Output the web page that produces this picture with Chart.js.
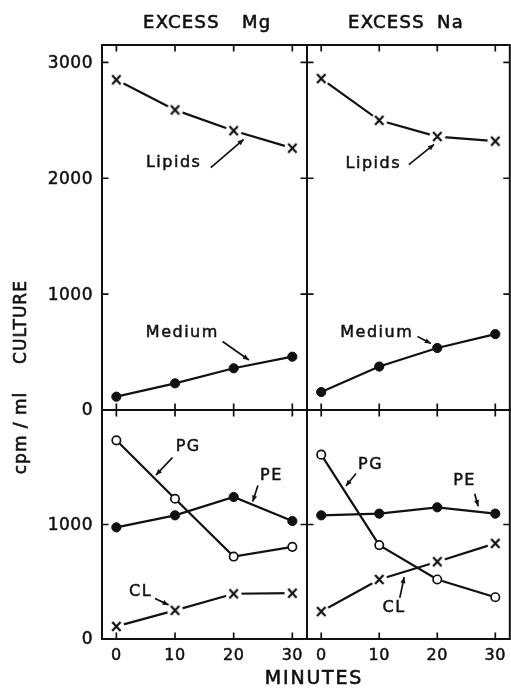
<!DOCTYPE html>
<html>
<head>
<meta charset="utf-8">
<script src="https://cdn.jsdelivr.net/npm/chart.js@4.4.1/dist/chart.umd.min.js"></script>
<style>
  html, body { margin: 0; padding: 0; background: #fff; overflow: hidden; }
  #wrap { position: relative; width: 511px; height: 688px; overflow: hidden; background: #fff; }
  #wrap canvas { position: absolute; left: 0; top: 0; }
</style>
</head>
<body>
<div id="wrap">
  <canvas id="tl" width="520" height="688" style="width:520px;height:688px"></canvas>
  <canvas id="tr" width="520" height="688" style="width:520px;height:688px"></canvas>
  <canvas id="bl" width="520" height="688" style="width:520px;height:688px"></canvas>
  <canvas id="br" width="520" height="688" style="width:520px;height:688px"></canvas>
</div>
<script>
// Sampling times (minutes)
const minutes = [0, 10, 20, 30];

// cpm / ml culture — excess Mg
const mgLipids = [2850, 2590, 2410, 2260];
const mgMedium = [115, 230, 360, 460];
const mgPG = [1735, 1225, 720, 805];
const mgPE = [975, 1080, 1240, 1030];
const mgCL = [110, 250, 395, 400];

// cpm / ml culture — excess Na
const naLipids = [2860, 2500, 2360, 2320];
const naMedium = [155, 375, 535, 655];
const naPG = [1610, 820, 520, 365];
const naPE = [1080, 1095, 1150, 1095];
const naCL = [240, 520, 675, 835];

// Axis ticks
const minuteTicks = [0, 10, 20, 30];
const upperTicks = [0, 1000, 2000, 3000];
const lowerTicks = [0, 1000];

const W = 520, H = 688;
const FONT = '"DejaVu Sans", "Liberation Sans", sans-serif';
const INK = '#111';

// "x" marker on a small white patch, so connecting lines stop just short of it
const xMark = (() => {
  const c = document.createElement('canvas');
  c.width = 17; c.height = 17;
  const g = c.getContext('2d');
  g.fillStyle = '#fff';
  g.beginPath(); g.arc(8.5, 8.5, 8, 0, Math.PI * 2); g.fill();
  g.strokeStyle = INK; g.lineWidth = 2.2; g.lineCap = 'butt';
  g.beginPath();
  g.moveTo(4.3, 4); g.lineTo(12.7, 13);
  g.moveTo(12.7, 4); g.lineTo(4.3, 13);
  g.stroke();
  return c;
})();

function pts(vals) {
  return minutes.map((m, i) => ({ x: m, y: vals[i] }));
}

function crossSeries(vals) {
  return { data: pts(vals), borderColor: INK, borderWidth: 2.2, pointStyle: xMark,
    pointRadius: 8, tension: 0, fill: false };
}
function dotSeries(vals) {
  return { data: pts(vals), borderColor: INK, borderWidth: 2.2, pointStyle: 'circle',
    pointRadius: 4.6, pointBorderWidth: 1, pointBorderColor: INK, pointBackgroundColor: INK,
    tension: 0, fill: false };
}
function ringSeries(vals) {
  return { data: pts(vals), borderColor: INK, borderWidth: 2.2, pointStyle: 'circle',
    pointRadius: 4.2, pointBorderWidth: 1.7, pointBorderColor: INK, pointBackgroundColor: '#fff',
    tension: 0, fill: false };
}

function inkText(ctx, s, x, y) {
  ctx.fillText(s, x, y);
  ctx.strokeText(s, x, y);
}

// Frame, inward ticks, tick labels and callouts for one panel
const panelDecor = {
  id: 'panelDecor',
  afterDatasetsDraw(chart, args, o) {
    const ctx = chart.ctx;
    const { left, right, top, bottom } = chart.chartArea;
    const xs = chart.scales.x, ys = chart.scales.y;
    const T = 6.5;
    ctx.save();
    ctx.strokeStyle = INK;
    ctx.fillStyle = INK;
    ctx.lineWidth = 2;
    ctx.strokeRect(left, top, right - left, bottom - top);

    ctx.lineWidth = 1.7;
    ctx.beginPath();
    o.xTicks.forEach(v => {
      const px = xs.getPixelForValue(v);
      ctx.moveTo(px, top); ctx.lineTo(px, top + T);
      ctx.moveTo(px, bottom); ctx.lineTo(px, bottom - T);
    });
    o.yTicks.forEach(v => {
      if (v <= ys.min || v >= ys.max) return;
      const py = ys.getPixelForValue(v);
      ctx.moveTo(left, py); ctx.lineTo(left + T, py);
      ctx.moveTo(right, py); ctx.lineTo(right - T, py);
    });
    ctx.stroke();

    ctx.lineWidth = 0.5;
    ctx.font = '17px ' + FONT;
    ctx.letterSpacing = '0.5px';
    if (o.yLabels) {
      ctx.textAlign = 'right';
      ctx.textBaseline = 'middle';
      o.yTicks.forEach(v => {
        inkText(ctx, String(v), left - 9, ys.getPixelForValue(v) + 1);
      });
    }
    if (o.xLabels) {
      ctx.font = '16px ' + FONT;
      ctx.textAlign = 'center';
      ctx.textBaseline = 'alphabetic';
      o.xTicks.forEach(v => {
        inkText(ctx, String(v), xs.getPixelForValue(v), bottom + 21);
      });
    }

    // callouts
    ctx.font = '16px ' + FONT;
    ctx.letterSpacing = '1.5px';
    ctx.textAlign = 'center';
    ctx.textBaseline = 'middle';
    (o.notes || []).forEach(n => {
      ctx.lineWidth = 0.5;
      inkText(ctx, n.text, xs.getPixelForValue(n.at[0]), ys.getPixelForValue(n.at[1]));
      const x1 = xs.getPixelForValue(n.arrow[0]), y1 = ys.getPixelForValue(n.arrow[1]);
      const x2 = xs.getPixelForValue(n.arrow[2]), y2 = ys.getPixelForValue(n.arrow[3]);
      ctx.lineWidth = 1.7;
      ctx.beginPath(); ctx.moveTo(x1, y1); ctx.lineTo(x2, y2); ctx.stroke();
      const ang = Math.atan2(y2 - y1, x2 - x1), L = 6, Wd = 2.6;
      ctx.beginPath();
      ctx.moveTo(x2, y2);
      ctx.lineTo(x2 - L * Math.cos(ang) + Wd * Math.sin(ang), y2 - L * Math.sin(ang) - Wd * Math.cos(ang));
      ctx.lineTo(x2 - L * Math.cos(ang) - Wd * Math.sin(ang), y2 - L * Math.sin(ang) + Wd * Math.cos(ang));
      ctx.closePath(); ctx.fill();
    });
    ctx.restore();
  }
};

// Column headings and axis titles
const pageText = {
  id: 'pageText',
  afterDraw(chart) {
    const ctx = chart.ctx;
    ctx.save();
    ctx.fillStyle = INK;
    ctx.strokeStyle = INK;
    ctx.lineWidth = 0.6;
    ctx.textBaseline = 'alphabetic';
    ctx.textAlign = 'left';
    ctx.font = '18px ' + FONT;
    ctx.letterSpacing = '1.3px';
    inkText(ctx, 'EXCESS', 143, 28);
    inkText(ctx, 'Mg', 242, 28);
    inkText(ctx, 'EXCESS', 348, 28);
    inkText(ctx, 'Na', 437, 28);

    ctx.textAlign = 'center';
    ctx.font = '19px ' + FONT;
    ctx.letterSpacing = '1.8px';
    inkText(ctx, 'MINUTES', 314, 684);

    ctx.font = '17px ' + FONT;
    ctx.letterSpacing = '1px';
    ctx.translate(25.5, 0);
    ctx.rotate(-Math.PI / 2);
    inkText(ctx, 'cpm / ml', -433, 0);
    inkText(ctx, 'CULTURE', -322, 0);
    ctx.restore();
  }
};

const X_MIN = -2.45, X_MAX = 32.5;

function panel(id, box, yMax, datasets, decor, extra) {
  return new Chart(document.getElementById(id), {
    type: 'line',
    data: { datasets },
    options: {
      responsive: false,
      animation: false,
      events: [],
      layout: { padding: { left: box.l, top: box.t, right: W - box.r, bottom: H - box.b } },
      plugins: { legend: { display: false }, tooltip: { enabled: false }, panelDecor: decor },
      scales: {
        x: { type: 'linear', min: X_MIN, max: X_MAX, display: false },
        y: { type: 'linear', min: 0, max: yMax, display: false }
      }
    },
    plugins: [panelDecor].concat(extra || [])
  });
}

const UPPER = { t: 45, b: 410 }, LOWER = { t: 410, b: 639 };
const LEFT = { l: 102, r: 307 }, RIGHT = { l: 307, r: 511 };

panel('tl', { ...LEFT, ...UPPER }, 3150,
  [crossSeries(mgLipids), dotSeries(mgMedium)],
  { xTicks: minuteTicks, yTicks: upperTicks, yLabels: true, xLabels: false,
    notes: [
      { text: 'Lipids', at: [9.77, 2135], arrow: [16.1, 2092, 21.7, 2335] },
      { text: 'Medium', at: [11.25, 663], arrow: [18.1, 591, 22.6, 432] }
    ] },
  [pageText]);

panel('tr', { ...RIGHT, ...UPPER }, 3150,
  [crossSeries(naLipids), dotSeries(naMedium)],
  { xTicks: minuteTicks, yTicks: upperTicks, yLabels: false, xLabels: false,
    notes: [
      { text: 'Lipids', at: [8.97, 2126], arrow: [15.1, 2118, 19.45, 2292] },
      { text: 'Medium', at: [9.57, 663], arrow: [16.6, 634, 18.9, 574] }
    ] });

panel('bl', { ...LEFT, ...LOWER }, 2000,
  [ringSeries(mgPG), dotSeries(mgPE), crossSeries(mgCL)],
  { xTicks: minuteTicks, yTicks: lowerTicks, yLabels: true, xLabels: true,
    notes: [
      { text: 'PG', at: [12.24, 1680], arrow: [9.55, 1584, 6.75, 1432] },
      { text: 'PE', at: [26.44, 1429], arrow: [24.13, 1341, 23.25, 1200] },
      { text: 'CL', at: [4.14, 416], arrow: [6.58, 353, 8.9, 298] }
    ] });

panel('br', { ...RIGHT, ...LOWER }, 2000,
  [ringSeries(naPG), dotSeries(naPE), crossSeries(naCL)],
  { xTicks: minuteTicks, yTicks: lowerTicks, yLabels: false, xLabels: true,
    notes: [
      { text: 'PG', at: [8.5, 1525], arrow: [6.0, 1446, 4.25, 1336] },
      { text: 'PE', at: [24.7, 1385], arrow: [26.45, 1269, 27.05, 1160] },
      { text: 'CL', at: [12.57, 271], arrow: [13.54, 359, 14.3, 540] }
    ] });
</script>
</body>
</html>
